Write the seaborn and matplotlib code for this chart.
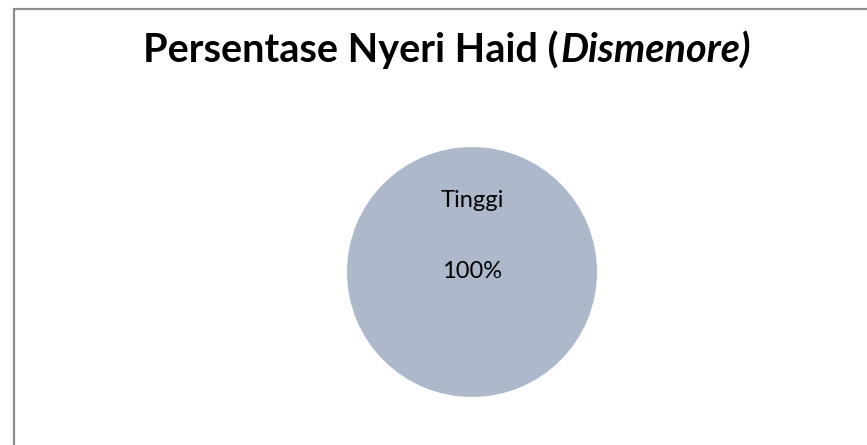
import matplotlib.pyplot as plt
import seaborn as sns
from matplotlib.lines import Line2D

# data
categories = ['Tinggi']
values = [100]
slice_colors = ['#adb9ca']
title_main = 'Persentase Nyeri Haid ('
title_italic = 'Dismenore)'

sns.set_theme(style='white')
plt.rcParams['font.family'] = ['Lato', 'DejaVu Sans']

fig = plt.figure(figsize=(8.67, 4.45), dpi=100)
fig.patch.set_facecolor('white')

# frame lines like the spreadsheet chart area (left and top only visible)
W, H = 867, 445
fig.add_artist(Line2D([14.5 / W, 14.5 / W], [0, 1 - 9 / H], color='#8c8c8c', lw=1.6,
                      transform=fig.transFigure))
fig.add_artist(Line2D([14.5 / W, 1], [1 - 9 / H, 1 - 9 / H], color='#8c8c8c', lw=1.6,
                      transform=fig.transFigure))

# pie axes: centre (472, 272), radius 125 px
r = 125
cx, cy = 472, 272
ax = fig.add_axes([(cx - r) / W, 1 - (cy + r) / H, 2 * r / W, 2 * r / H])
wedges, _ = ax.pie(values, colors=slice_colors, startangle=90, radius=1,
                   wedgeprops=dict(linewidth=0))
ax.set_xlim(-1, 1)
ax.set_ylim(-1, 1)
ax.set_aspect('equal')
ax.axis('off')

total = sum(values)
for cat, v in zip(categories, values):
    ax.text(0, 0.575, cat, ha='center', va='center', fontsize=17, color='black')
    ax.text(0, 0.0, f'{v / total * 100:.0f}%', ha='center', va='center', fontsize=17, color='black')

# title: bold part + bold italic part, centred together
ty = 1 - 50 / H
t1 = fig.text(0, ty, title_main, ha='left', va='center', fontsize=28.5,
              fontweight='bold', color='black')
t2 = fig.text(0, ty, title_italic, ha='left', va='center', fontsize=28.5,
              fontweight='bold', fontstyle='italic', color='black')
fig.canvas.draw()
rend = fig.canvas.get_renderer()
w1 = t1.get_window_extent(rend).width
w2 = t2.get_window_extent(rend).width
x0 = 446 - (w1 + w2) / 2
t1.set_x(x0 / W)
t2.set_x((x0 + w1 + 2) / W)

fig.savefig('out.png', dpi=100, facecolor='white')
